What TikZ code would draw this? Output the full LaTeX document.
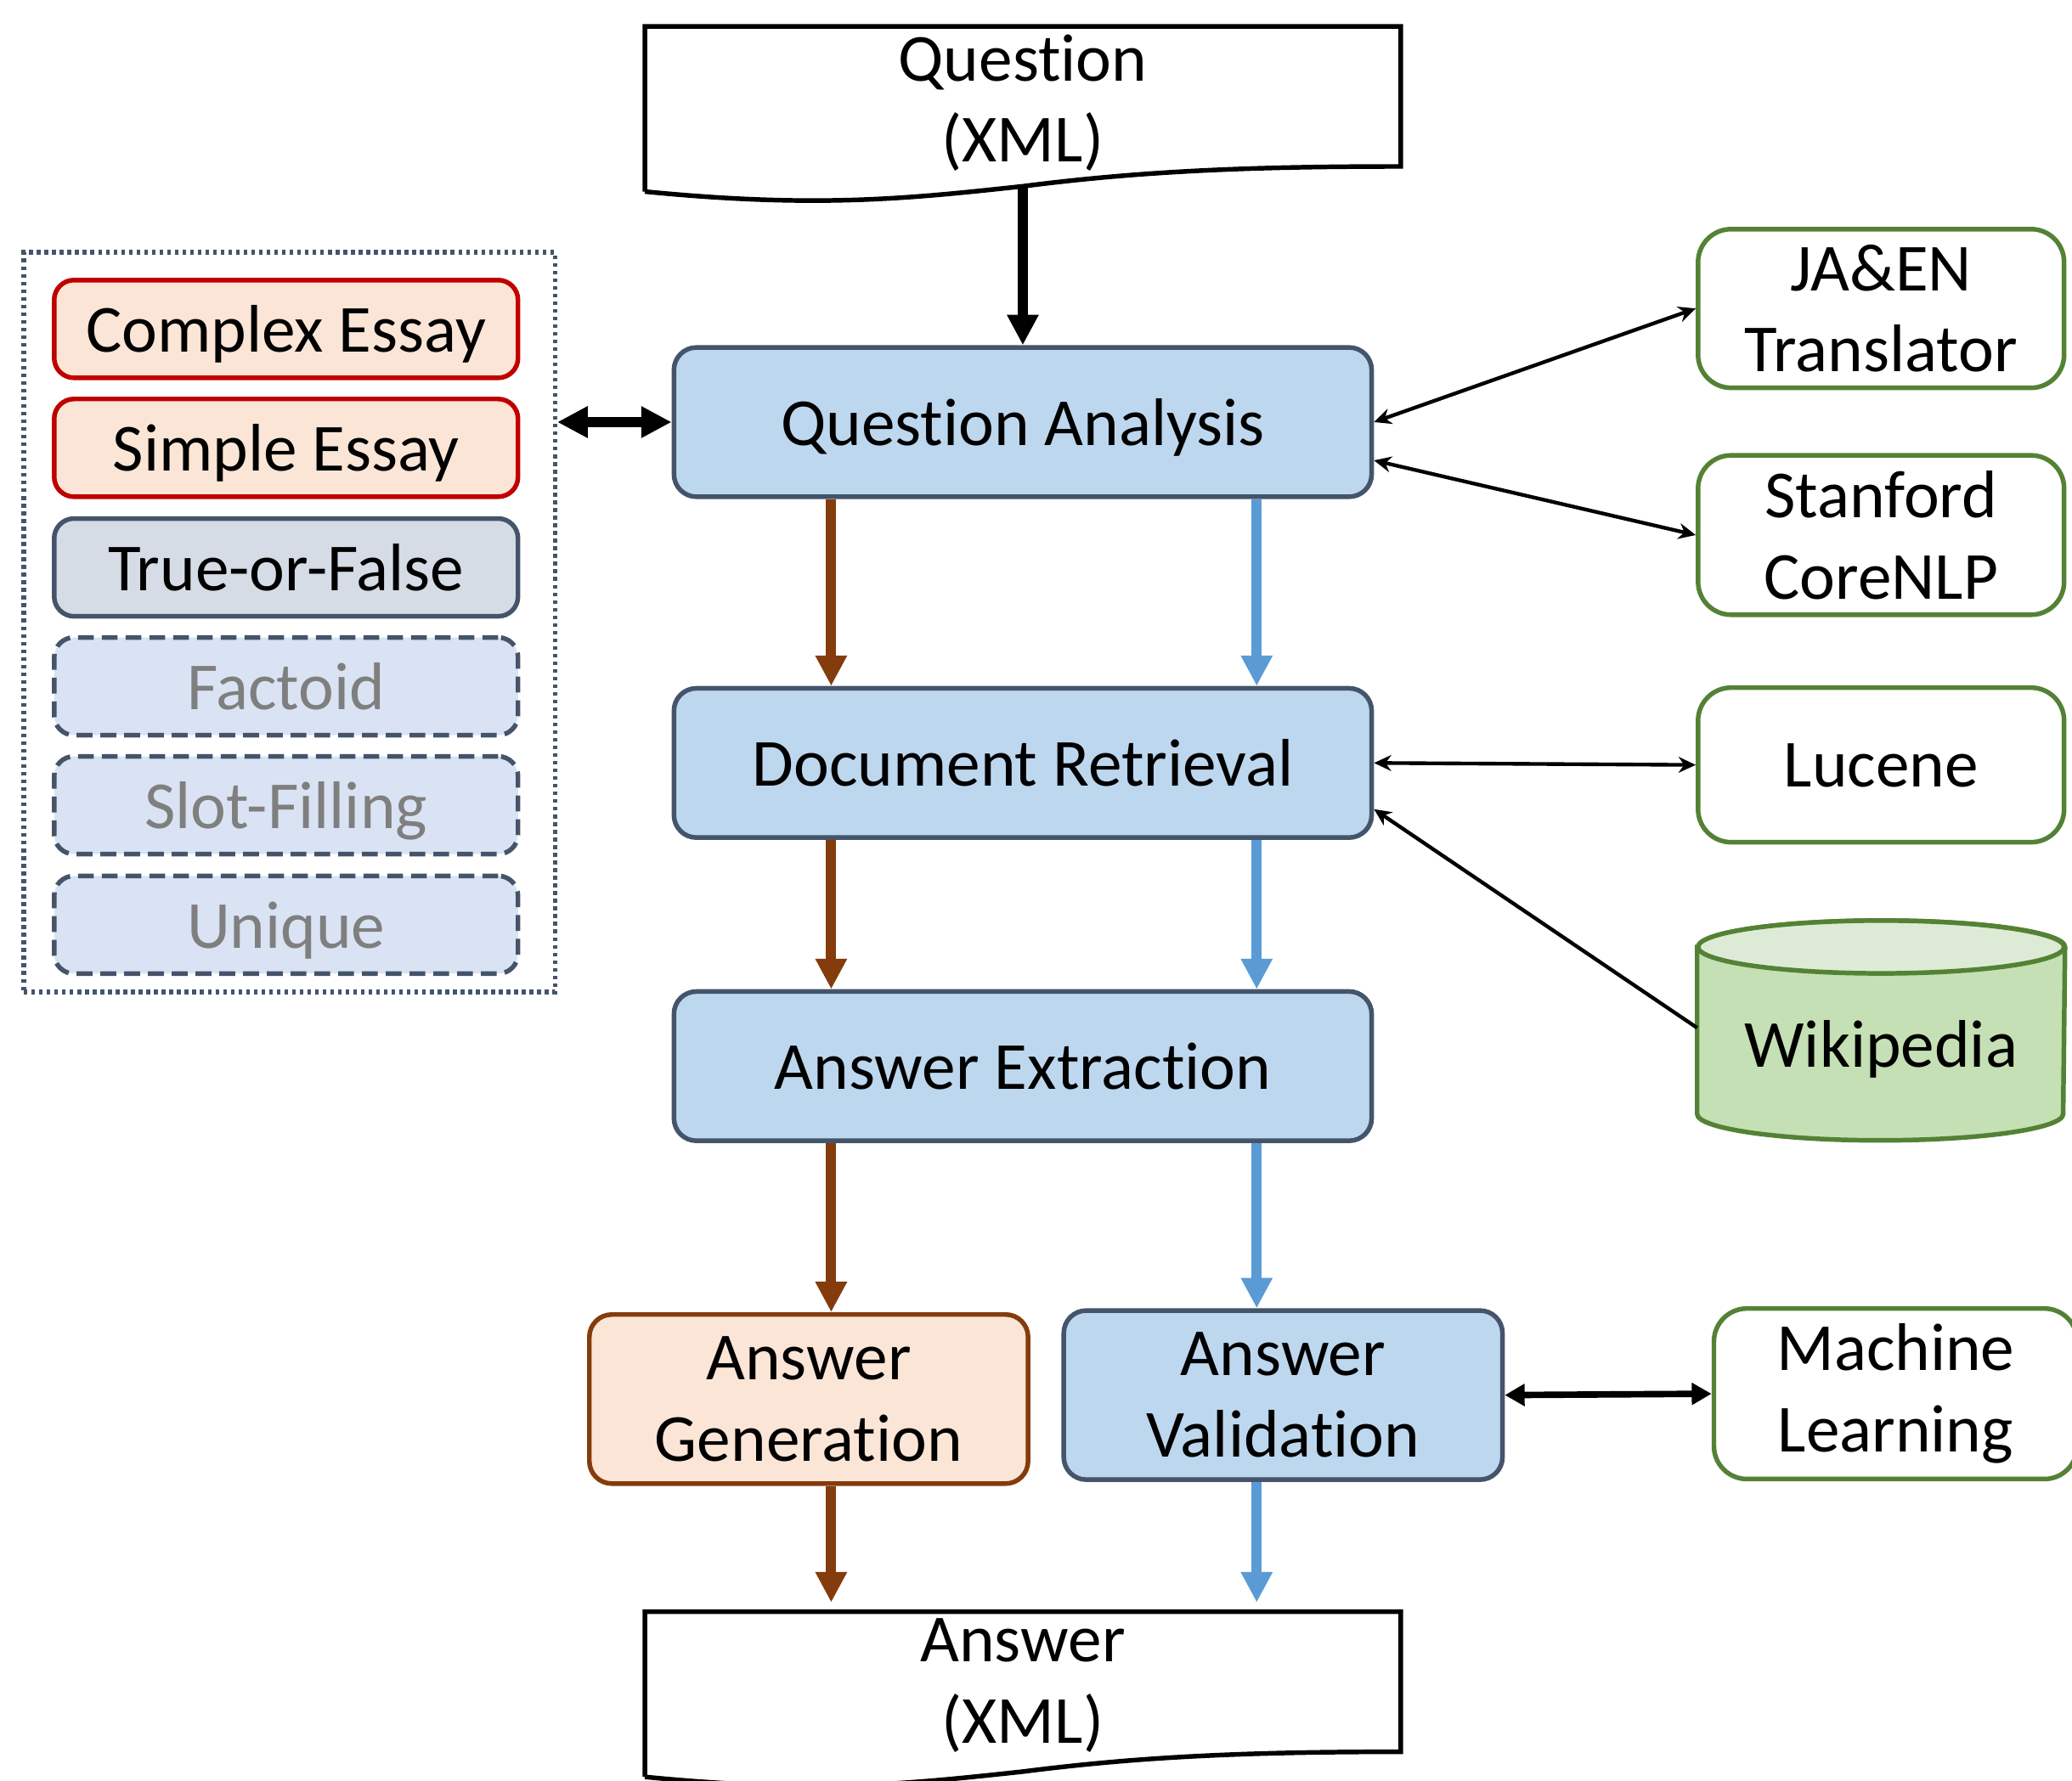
\documentclass[tikz,border=0pt]{standalone}
\usepackage{fontspec}
\setmainfont{Carlito}[Ligatures=NoCommon]
\usetikzlibrary{arrows.meta,calc}

\definecolor{stageblue}{HTML}{BDD7EE}
\definecolor{slate}{HTML}{44546A}
\definecolor{genpeach}{HTML}{FBE5D6}
\definecolor{genbrown}{HTML}{843C0C}
\definecolor{essayred}{HTML}{C00000}
\definecolor{tfgray}{HTML}{D6DCE5}
\definecolor{otherblue}{HTML}{DAE3F3}
\definecolor{textgray}{HTML}{7F7F7F}
\definecolor{toolgreen}{HTML}{548235}
\definecolor{wikibody}{HTML}{C5E0B4}
\definecolor{wikitop}{HTML}{DDEBD6}
\definecolor{flowblue}{HTML}{5B9BD5}

\begin{document}
\begin{tikzpicture}[
    font=\fontsize{14.5}{17.5}\selectfont,
    bigtip/.tip={Triangle[length=0.23cm, width=0.225cm]},
    smalltip/.tip={Stealth[length=0.13cm, width=0.12cm]},
    oneline/.style={text depth=0pt},
    stage/.style={draw=slate, fill=stageblue, line width=1pt, rounded corners=0.17cm,
        minimum width=5.28cm, minimum height=1.13cm, align=center},
    splitstage/.style={stage, minimum width=3.32cm, minimum height=1.28cm},
    qtype/.style={oneline, draw=slate, line width=1pt, rounded corners=0.15cm,
        minimum width=3.51cm, minimum height=0.74cm},
    essay/.style={qtype, draw=essayred, fill=genpeach},
    tfq/.style={qtype, fill=tfgray},
    otherq/.style={qtype, dash pattern=on 0.12cm off 0.06cm, fill=otherblue, text=textgray},
    tool/.style={draw=toolgreen, line width=1pt, rounded corners=0.25cm, fill=white,
        minimum width=2.77cm, minimum height=1.17cm, align=center},
    docbox/.style={minimum width=5.72cm, minimum height=1.12cm, align=center},
    docline/.style={draw=black, line width=1pt},
    brownflow/.style={draw=genbrown, line width=2.2pt, -{bigtip}},
    blueflow/.style={brownflow, draw=flowblue},
    toollink/.style={line width=0.8pt, {smalltip}-{smalltip}}
]
    \useasboundingbox (0,0) rectangle (15.68,-13.48);
    \coordinate (brownx) at (6.29,0);
    \coordinate (bluex) at (9.51,0);

    % nodes (documents)
    \node (qdoc) [docbox] at (7.74,-0.78) {Question\\(XML)};
    \node (adoc) [docbox] at (7.74,-12.76) {Answer\\(XML)};
    \coordinate (qdocwave) at (7.74,-1.41);
    \draw[docline] (4.88,-1.45) -- (4.88,-0.20) -- (10.60,-0.20) -- (10.60,-1.26)
        .. controls (9.4,-1.26) and (8.6,-1.30) .. (7.74,-1.41)
        .. controls (6.9,-1.50) and (6.2,-1.58) .. (4.88,-1.45);
    \draw[docline] (4.88,-13.45) -- (4.88,-12.20) -- (10.60,-12.20) -- (10.60,-13.26)
        .. controls (9.4,-13.26) and (8.6,-13.30) .. (7.74,-13.41)
        .. controls (6.9,-13.50) and (6.2,-13.58) .. (4.88,-13.45);

    % nodes (pipeline)
    \node (qa) [stage, oneline] at (7.74,-3.195) {Question Analysis};
    \node (dr) [stage, oneline] at (7.74,-5.775) {Document Retrieval};
    \node (ae) [stage, oneline] at (7.74,-8.07) {Answer Extraction};
    \node (ag) [splitstage, draw=genbrown, fill=genpeach] at (6.12,-10.59) {Answer\\Generation};
    \node (av) [splitstage] at (9.71,-10.56) {Answer\\Validation};

    % nodes (question types)
    \node (types) [draw=slate, line width=1pt, dash pattern=on 0.028cm off 0.03cm,
        minimum width=4.02cm, minimum height=5.60cm] at (2.19,-4.71) {};
    \node (complex) [essay] at (2.165,-2.49) {Complex Essay};
    \node (simple) [essay] at (2.165,-3.39) {Simple Essay};
    \node (tf) [tfq] at (2.165,-4.295) {True-or-False};
    \node (factoid) [otherq] at (2.165,-5.195) {Factoid};
    \node (slot) [otherq] at (2.165,-6.095) {Slot-Filling};
    \node (unique) [otherq] at (2.165,-7.00) {Unique};

    % nodes (resources)
    \node (jaen) [tool] at (14.235,-2.335) {JA\&EN\\Translator};
    \node (corenlp) [tool] at (14.235,-4.05) {Stanford\\CoreNLP};
    \node (lucene) [tool, oneline] at (14.235,-5.79) {Lucene};
    \node (ml) [tool, minimum width=2.75cm, minimum height=1.26cm] at (14.345,-10.55) {Machine\\Learning};
    \node (wiki) [minimum width=2.77cm, minimum height=1.45cm] at (14.235,-7.90) {};
    \path[fill=wikibody, draw=toolgreen, line width=1pt]
        ($(wiki.north west)$) -- ($(wiki.south west)+(0,0.2)$)
        arc[start angle=180, end angle=360, x radius=1.385cm, y radius=0.2cm]
        -- ($(wiki.north east)$)
        arc[start angle=0, end angle=180, x radius=1.385cm, y radius=0.2cm] -- cycle;
    \draw[fill=wikitop, draw=toolgreen, line width=1pt] (wiki.north) ellipse[x radius=1.385cm, y radius=0.2cm];
    \node[oneline] at (wiki.center) {Wikipedia};

    % edges
    \draw[line width=2.2pt, -{bigtip}] (qdocwave) -- (qa.north); % Question -> QA
    \draw[line width=2.2pt, {bigtip}-{bigtip}] (types.east |- qa.west) -- (qa.west); % types <-> QA
    \draw[brownflow] (qa.south -| brownx) -- (dr.north -| brownx); % QA -> DR
    \draw[brownflow] (dr.south -| brownx) -- (ae.north -| brownx); % DR -> AE
    \draw[brownflow] (ae.south -| brownx) -- (ag.north -| brownx); % AE -> AG
    \draw[brownflow] (ag.south -| brownx) -- (adoc.north -| brownx); % AG -> Answer
    \draw[blueflow] (qa.south -| bluex) -- (dr.north -| bluex); % QA -> DR
    \draw[blueflow] (dr.south -| bluex) -- (ae.north -| bluex); % DR -> AE
    \draw[blueflow] (ae.south -| bluex) -- (av.north -| bluex); % AE -> AV
    \draw[blueflow] (av.south -| bluex) -- (adoc.north -| bluex); % AV -> Answer
    \draw[toollink] (qa.east) -- (jaen.west); % QA <-> translator
    \draw[toollink] ($(qa.east)+(0,-0.29)$) -- (corenlp.west); % QA <-> CoreNLP
    \draw[toollink] (dr.east) -- (lucene.west); % DR <-> Lucene
    \draw[line width=0.8pt, -{smalltip}]
        ($(wiki.west)+(0,0.12)$) -- ($(dr.east)+(0,-0.35)$); % Wikipedia -> DR
    \draw[line width=1.4pt, {Triangle[length=0.15cm, width=0.16cm]}-{Triangle[length=0.15cm, width=0.16cm]}]
        (av.east) -- (ml.west); % AV <-> ML

\end{tikzpicture}
\end{document}
